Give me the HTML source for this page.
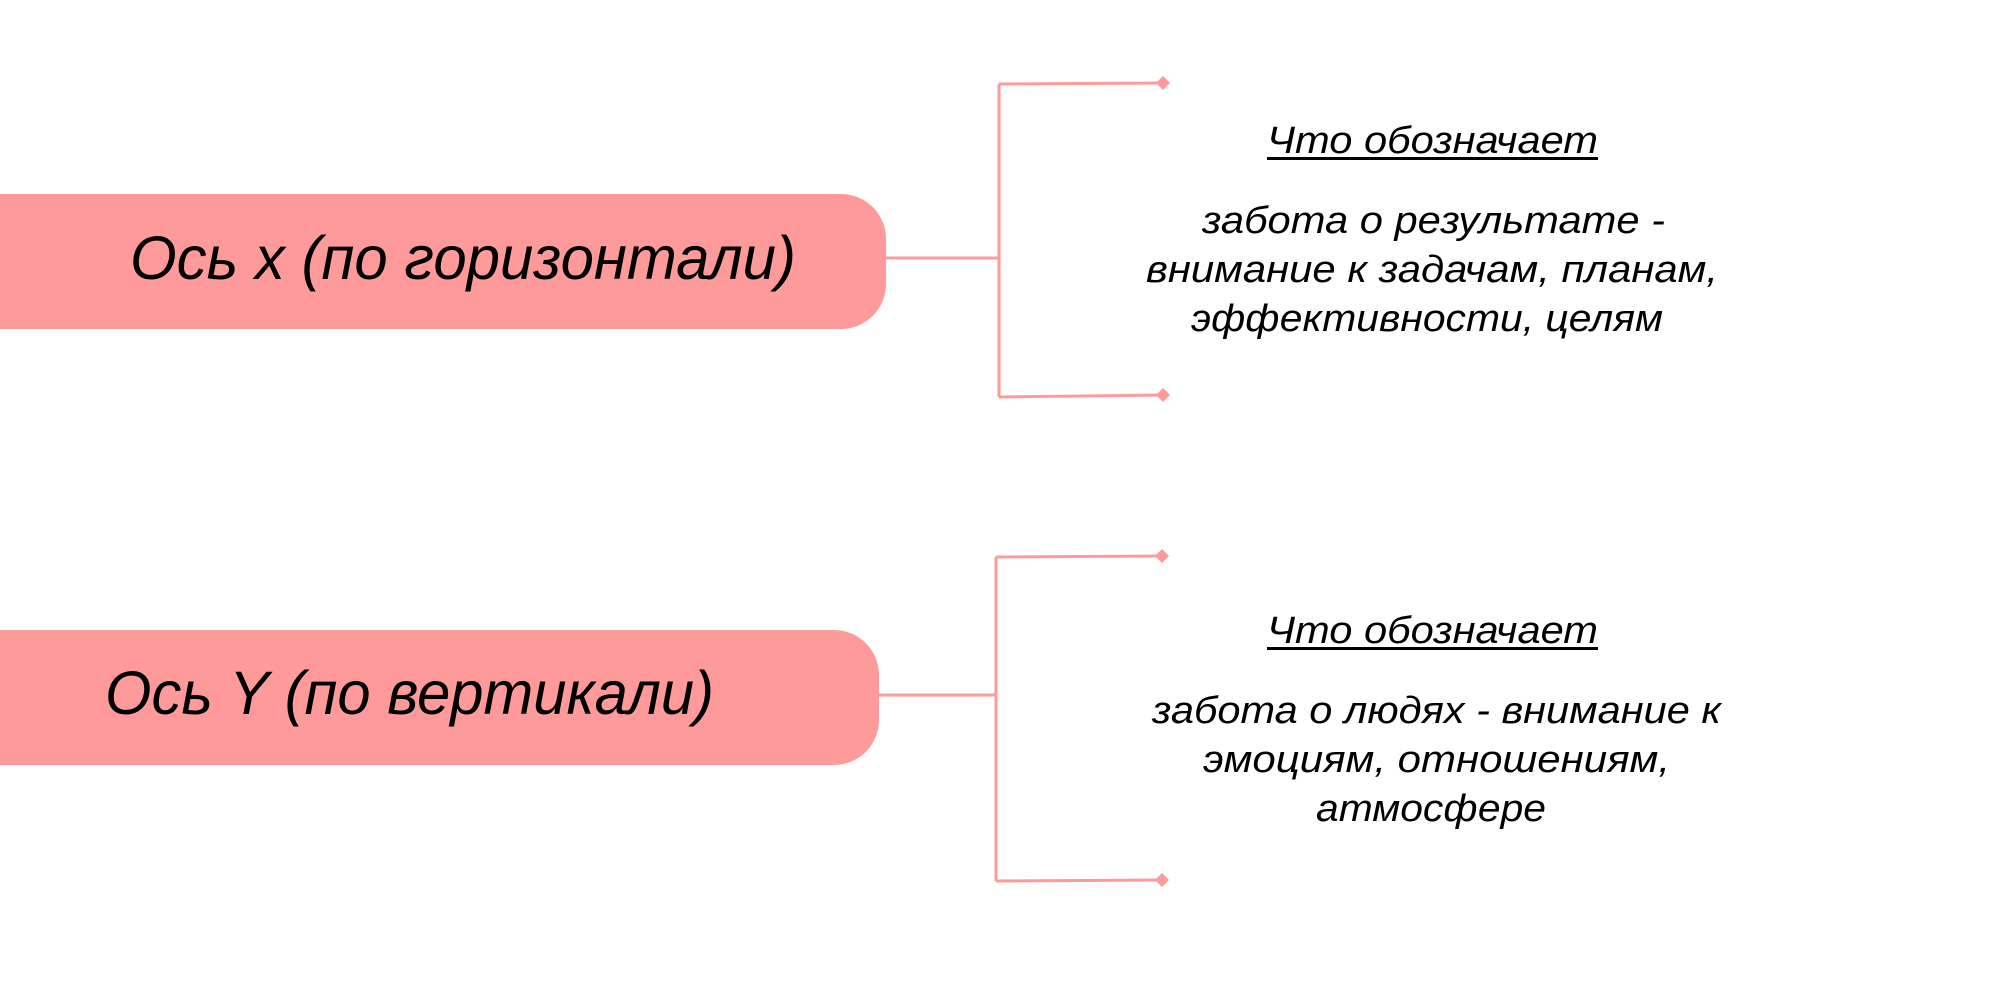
<!DOCTYPE html>
<html><head><meta charset="utf-8"><style>
html,body{margin:0;padding:0;background:#fff;width:2000px;height:1000px;overflow:hidden}
text{font-family:"Liberation Sans","DejaVu Sans",sans-serif;font-style:italic;fill:#000}
</style></head><body>
<svg width="2000" height="1000" viewBox="0 0 2000 1000" xmlns="http://www.w3.org/2000/svg">
<g fill="#ff9a9a">
<path d="M0 194 H841 A45 45 0 0 1 886 239 V284 A45 45 0 0 1 841 329 H0 Z"/>
<path d="M0 630 H834 A45 45 0 0 1 879 675 V720 A45 45 0 0 1 834 765 H0 Z"/>
</g>
<g stroke="#ff9a9a" stroke-width="3" fill="none">
<path d="M886 258 H999 M999 84 V397 M999 84 L1160 83 M999 397 L1160 395"/>
<path d="M879 695 H996 M996 557 V881 M996 557 L1159 556 M996 881 L1159 880"/>
</g>
<g fill="#ff9a9a">
<path d="M1156 83 l7 -7 l7 7 l-7 7 Z"/>
<path d="M1156 395 l7 -7 l7 7 l-7 7 Z"/>
<path d="M1155 556 l7 -7 l7 7 l-7 7 Z"/>
<path d="M1155 880 l7 -7 l7 7 l-7 7 Z"/>
</g>
<text x="130" y="279" font-size="61" textLength="666" lengthAdjust="spacingAndGlyphs">Ось x (по горизонтали)</text>
<text x="105" y="714" font-size="61" textLength="609" lengthAdjust="spacingAndGlyphs">Ось Y (по вертикали)</text>

<text x="1267" y="153" font-size="38" textLength="331" lengthAdjust="spacingAndGlyphs">Что обозначает</text>
<rect x="1267" y="157" width="331" height="3" fill="#000"/>
<text x="1202" y="233" font-size="38" textLength="463" lengthAdjust="spacingAndGlyphs">забота о результате -</text>
<text x="1146" y="282" font-size="38" textLength="572" lengthAdjust="spacingAndGlyphs">внимание к задачам, планам,</text>
<text x="1191" y="331" font-size="38" textLength="472" lengthAdjust="spacingAndGlyphs">эффективности, целям</text>

<text x="1267" y="643" font-size="38" textLength="331" lengthAdjust="spacingAndGlyphs">Что обозначает</text>
<rect x="1267" y="647" width="331" height="3" fill="#000"/>
<text x="1152" y="723" font-size="38" textLength="569" lengthAdjust="spacingAndGlyphs">забота о людях - внимание к</text>
<text x="1203" y="772" font-size="38" textLength="467" lengthAdjust="spacingAndGlyphs">эмоциям, отношениям,</text>
<text x="1316" y="821" font-size="38" textLength="230" lengthAdjust="spacingAndGlyphs">атмосфере</text>
</svg>
</body></html>
